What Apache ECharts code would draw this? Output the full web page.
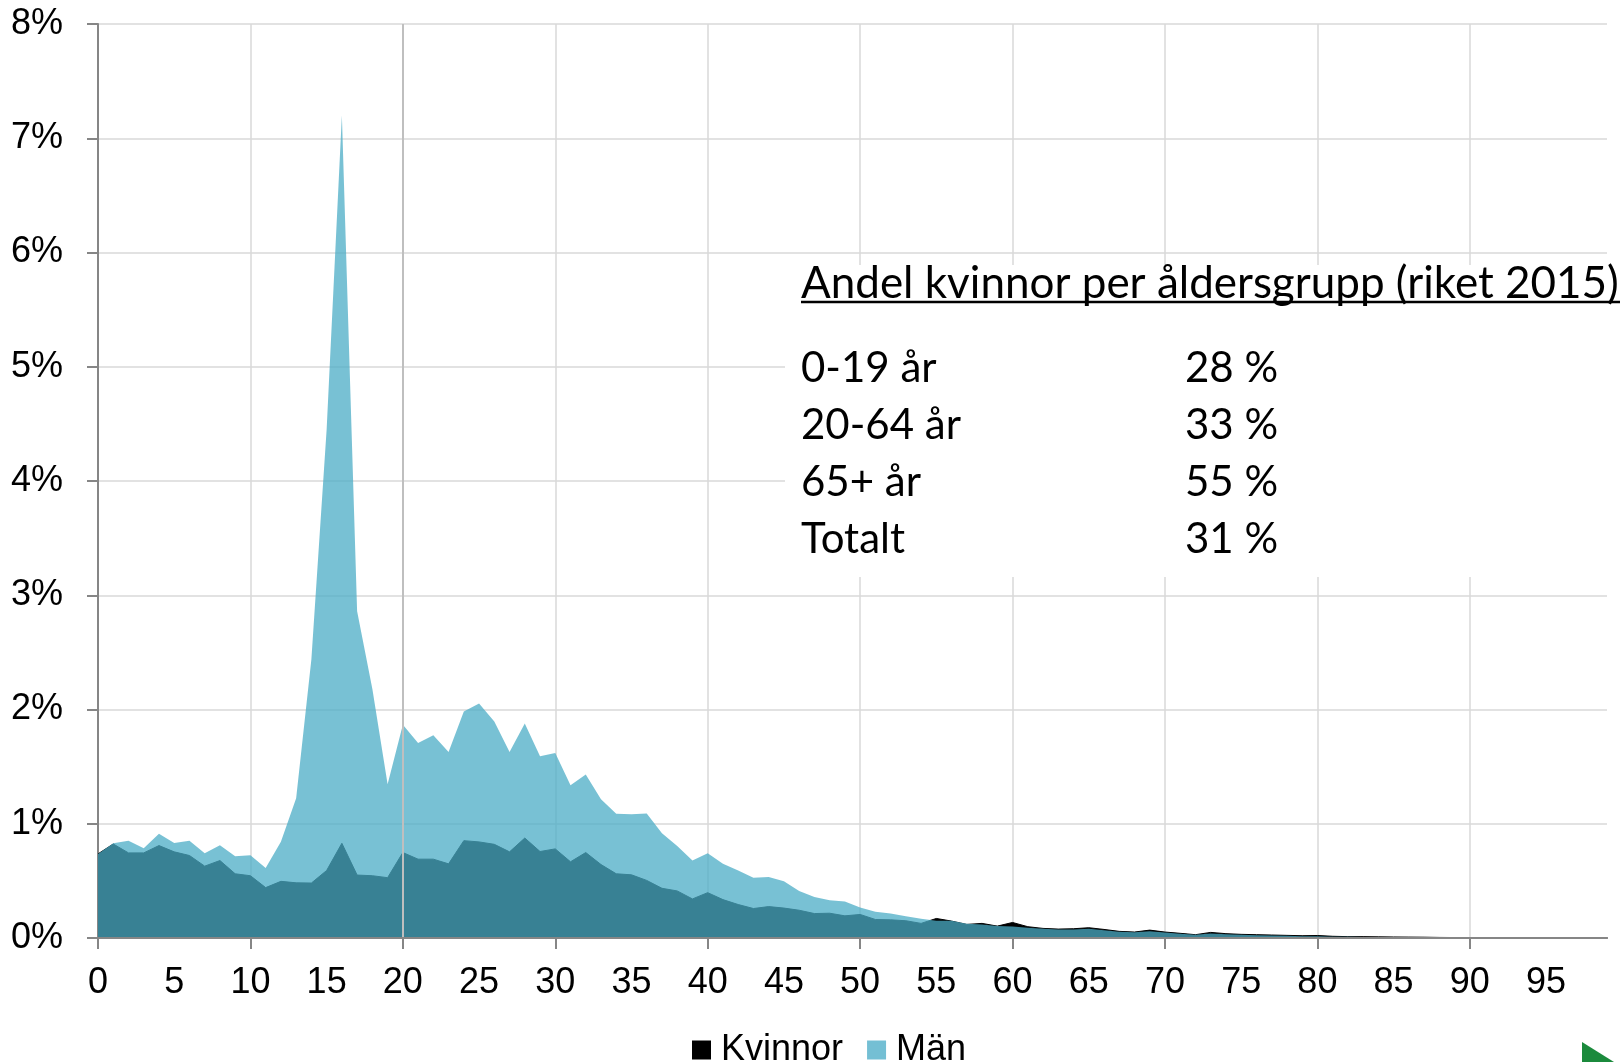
<!DOCTYPE html>
<html>
<head>
<meta charset="utf-8">
<script src="https://cdn.jsdelivr.net/npm/echarts@6/dist/echarts.min.js"></script>
<style>
html,body{margin:0;padding:0;background:#fff;}
#c{width:1620px;height:1062px;}
</style>
</head>
<body>
<div id="c"></div>
<script>
const ages = Array.from({length: 100}, (_, i) => String(i));
const kvinnor = [
0.736,0.823,0.745,0.745,0.809,0.754,0.722,0.629,0.678,0.562,
0.545,0.441,0.496,0.483,0.481,0.591,0.829,0.551,0.545,0.528,
0.748,0.690,0.690,0.649,0.852,0.841,0.820,0.754,0.875,0.757,
0.780,0.667,0.748,0.643,0.562,0.553,0.504,0.435,0.412,0.342,
0.397,0.336,0.293,0.258,0.275,0.262,0.243,0.214,0.217,0.194,
0.206,0.162,0.159,0.151,0.128,0.171,0.148,0.119,0.128,0.104,
0.136,0.099,0.084,0.078,0.081,0.090,0.075,0.058,0.052,0.069,
0.052,0.041,0.029,0.049,0.038,0.032,0.029,0.026,0.023,0.020,
0.022,0.015,0.012,0.012,0.010,0.009,0.008,0.007,0.005,0.004,
0.003,0.003,0.002,0.002,0.001,0.001,0.001,0.000,0.000,0.000
];
const man = [
0.736,0.829,0.852,0.786,0.913,0.832,0.852,0.742,0.812,0.716,
0.725,0.612,0.843,1.223,2.44,4.45,7.20,2.86,2.18,1.345,
1.867,1.707,1.774,1.629,1.983,2.052,1.896,1.629,1.878,1.591,
1.620,1.336,1.432,1.214,1.087,1.084,1.090,0.916,0.806,0.678,
0.742,0.649,0.591,0.528,0.533,0.496,0.412,0.359,0.330,0.319,
0.267,0.229,0.214,0.191,0.168,0.150,0.151,0.125,0.119,0.104,
0.100,0.090,0.080,0.075,0.075,0.080,0.068,0.055,0.050,0.060,
0.048,0.038,0.028,0.040,0.033,0.028,0.025,0.022,0.019,0.016,
0.015,0.012,0.010,0.009,0.008,0.007,0.006,0.005,0.004,0.003,
0.002,0.002,0.001,0.001,0.001,0.000,0.000,0.000,0.000,0.000
];
const boxTitle = 'Andel kvinnor per åldersgrupp (riket 2015)';
const boxLabels = ['0-19 år', '20-64 år', '65+ år', 'Totalt'];
const boxValues = ['28 %', '33 %', '55 %', '31 %'];

const chart = echarts.init(document.getElementById('c'));
const axisFont = 'Liberation Sans, Arial, sans-serif';
const boxFont = 'Lato, sans-serif';

const graphics = [
  {type: 'rect', shape: {x: 785, y: 265, width: 835, height: 312}, style: {fill: '#ffffff'}, z: 50},
  {type: 'text', x: 801, y: 284, z: 51, style: {text: boxTitle, font: '44px ' + boxFont, fill: '#000', verticalAlign: 'middle', align: 'left'}},
  {type: 'line', shape: {x1: 801, y1: 302, x2: 1620, y2: 302}, style: {stroke: '#000', lineWidth: 2.5}, z: 51},
  {type: 'polygon', shape: {points: [[1582,1042],[1582,1062],[1614,1062]]}, style: {fill: '#1b8a3c'}, z: 51}
];
boxLabels.forEach((t, i) => {
  graphics.push({type: 'text', x: 801, y: 368 + i * 57, z: 51, style: {text: t, font: '42px ' + boxFont, fill: '#000', verticalAlign: 'middle', align: 'left'}});
  graphics.push({type: 'text', x: 1185, y: 368 + i * 57, z: 51, style: {text: boxValues[i], font: '42px ' + boxFont, fill: '#000', verticalAlign: 'middle', align: 'left'}});
});

chart.setOption({
  animation: false,
  backgroundColor: '#ffffff',
  grid: {left: 98, right: 13, top: 24, bottom: 124, containLabel: false},
  legend: {
    left: 692, top: 1032, padding: 0, itemWidth: 19, itemHeight: 19, itemGap: 24, icon: 'rect',
    textStyle: {fontSize: 36, fontFamily: axisFont, color: '#000', padding: [0, 0, 0, 5]},
    data: [{name: 'Kvinnor', itemStyle: {color: '#000'}}, {name: 'Män', itemStyle: {color: '#74bfd4'}}]
  },
  xAxis: [{
    type: 'category', data: ages, boundaryGap: false,
    axisLine: {lineStyle: {color: '#868686', width: 2}},
    axisTick: {interval: 9, length: 11, lineStyle: {color: '#868686', width: 2}},
    axisLabel: {interval: 4, margin: 27, fontSize: 36, fontFamily: axisFont, color: '#000'},
    splitLine: {show: true, interval: 9, lineStyle: {color: '#d9d9d9', width: 1.5}}
  }, {
    type: 'category', data: ages, boundaryGap: false, position: 'bottom', z: 10,
    axisLine: {lineStyle: {color: '#868686', width: 2}},
    axisTick: {show: false}, axisLabel: {show: false}, splitLine: {show: false}
  }],
  yAxis: {
    type: 'value', min: 0, max: 8, interval: 1,
    axisLine: {show: true, lineStyle: {color: '#868686', width: 2}},
    axisTick: {show: true, length: 11, lineStyle: {color: '#868686', width: 2}},
    axisLabel: {formatter: '{value}%', margin: 35, fontSize: 36, fontFamily: axisFont, color: '#000'},
    splitLine: {show: true, lineStyle: {color: '#d9d9d9', width: 1.5}}
  },
  series: [{
    name: 'Kvinnor', type: 'line', data: kvinnor, symbol: 'none', z: 2,
    lineStyle: {color: '#000', width: 1},
    itemStyle: {color: '#000'},
    areaStyle: {color: '#000', opacity: 1}
  }, {
    name: 'Män', type: 'line', data: man, symbol: 'none', z: 3,
    lineStyle: {width: 0, opacity: 0},
    itemStyle: {color: '#74bfd4'},
    areaStyle: {color: 'rgba(75,172,198,0.75)', opacity: 1},
    markLine: {
      silent: true, symbol: 'none', label: {show: false},
      lineStyle: {color: '#bfbfbf', width: 2, type: 'solid'},
      data: [{xAxis: '20'}]
    }
  }],
  graphic: graphics
});
</script>
</body>
</html>
